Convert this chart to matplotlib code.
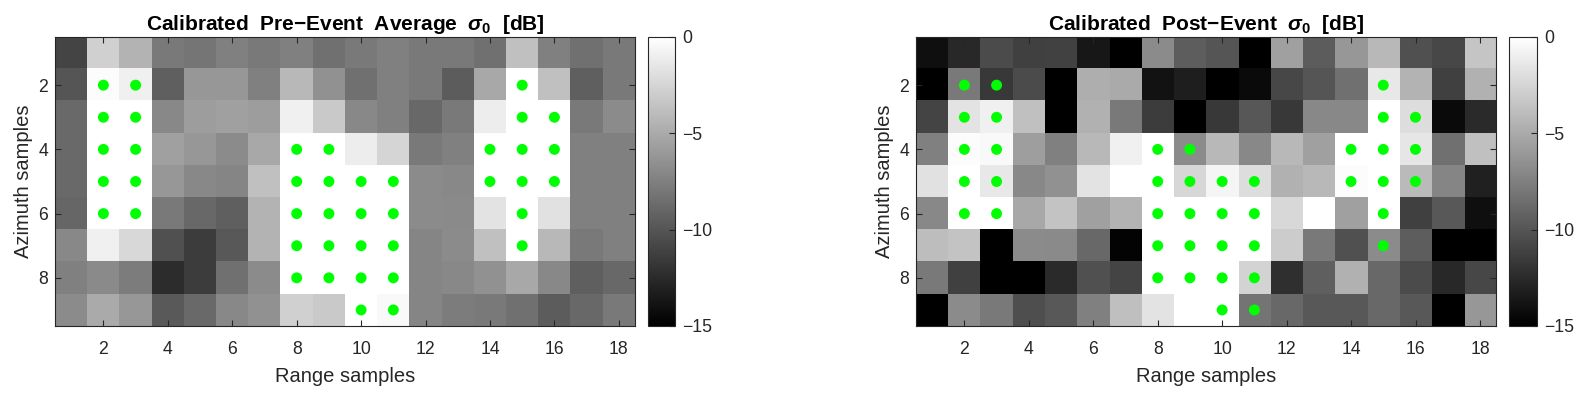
import numpy as np
import matplotlib
matplotlib.use("Agg")
import matplotlib.pyplot as plt

plt.rcParams['font.family'] = ['Liberation Sans', 'DejaVu Sans']
plt.rcParams['mathtext.fontset'] = 'custom'
plt.rcParams['mathtext.it'] = 'Liberation Sans:italic:bold'
plt.rcParams['mathtext.rm'] = 'Liberation Sans:bold'

# --- calibrated sigma0 [dB], 9 azimuth rows x 18 range columns ---
pre_event = [
    [-11.0, -2.8, -4.4, -7.9, -8.1, -7.5, -7.9, -7.5, -8.4, -7.9, -7.5, -7.8, -7.9, -8.4, -3.7, -7.5, -8.4, -7.9],
    [-10.0, -0.2, -0.9, -9.4, -6.1, -6.1, -7.5, -4.2, -6.5, -8.4, -7.5, -7.9, -9.6, -5.1, 0.0, -3.7, -9.4, -7.9],
    [-8.8, 0.0, 0.0, -7.0, -5.8, -5.6, -5.8, -0.9, -3.2, -7.0, -7.5, -8.9, -7.9, -1.1, 0.0, 0.0, -7.9, -6.8],
    [-8.8, 0.0, 0.0, -5.6, -6.1, -6.8, -5.1, 0.0, 0.0, -1.1, -2.5, -7.9, -7.5, 0.0, 0.0, 0.0, -7.5, -7.5],
    [-8.8, 0.0, 0.0, -6.1, -7.0, -7.2, -3.7, 0.0, 0.0, 0.0, 0.0, -6.8, -7.0, 0.0, 0.0, 0.0, -7.5, -7.5],
    [-9.0, 0.0, 0.0, -7.9, -8.9, -9.4, -4.4, 0.0, 0.0, 0.0, 0.0, -6.8, -6.9, -1.6, 0.0, -1.8, -7.5, -7.5],
    [-7.0, -0.9, -2.3, -10.3, -11.4, -9.8, -4.4, 0.0, 0.0, 0.0, 0.0, -7.2, -6.8, -3.7, 0.0, -4.2, -7.9, -7.5],
    [-7.5, -6.9, -7.7, -12.4, -11.4, -8.4, -6.8, 0.0, 0.0, 0.0, 0.0, -7.2, -7.0, -6.5, -5.1, -7.0, -9.4, -8.9],
    [-6.8, -5.0, -6.1, -9.7, -8.8, -7.0, -6.5, -2.8, -3.2, 0.0, -0.4, -7.2, -7.7, -7.9, -8.4, -9.6, -8.9, -7.9],
]

post_event = [
    [-14.1, -12.6, -10.6, -11.2, -11.1, -13.6, -15.0, -6.8, -9.5, -10.0, -15.0, -5.6, -9.6, -6.1, -4.2, -10.3, -10.8, -3.4],
    [-15.0, -7.9, -11.7, -10.6, -15.0, -4.8, -5.0, -13.9, -13.2, -15.0, -14.4, -10.8, -10.0, -8.4, -1.4, -4.5, -11.2, -4.6],
    [-11.0, -1.6, -0.9, -3.7, -15.0, -4.6, -7.9, -11.4, -15.0, -11.7, -9.9, -11.7, -7.0, -7.0, 0.0, -2.0, -14.4, -12.5],
    [-7.5, -0.2, -0.4, -5.7, -7.5, -4.2, -0.9, 0.0, -6.8, -4.2, -7.0, -4.2, -5.6, 0.0, 0.0, -1.5, -8.4, -3.7],
    [-1.8, 0.0, -1.4, -7.0, -6.5, -1.6, 0.0, 0.0, -2.4, -0.6, -2.0, -4.6, -4.2, -0.2, 0.0, -4.1, -7.2, -13.1],
    [-7.0, 0.0, 0.0, -5.1, -3.5, -5.6, -4.5, 0.0, 0.0, 0.0, 0.0, -2.3, 0.0, -5.6, 0.0, -11.2, -9.8, -14.1],
    [-3.9, -3.5, -15.0, -6.8, -6.9, -8.9, -14.8, 0.0, 0.0, 0.0, 0.0, -3.0, -7.9, -10.3, -6.8, -9.5, -15.0, -15.0],
    [-7.9, -11.2, -15.0, -15.0, -12.5, -10.3, -11.0, 0.0, 0.0, 0.0, -2.6, -12.2, -9.4, -4.6, -8.9, -10.6, -12.6, -10.8],
    [-15.0, -6.8, -7.9, -10.4, -9.8, -7.5, -3.8, -1.6, 0.0, 0.0, -8.2, -8.9, -9.8, -9.8, -8.9, -9.8, -15.0, -6.1],
]

# marked (damaged) pixels: range column, azimuth row
dot_cols = [2, 3, 15, 2, 3, 15, 16, 2, 3, 8, 9, 14, 15, 16,
            2, 3, 8, 9, 10, 11, 14, 15, 16, 2, 3, 8, 9, 10, 11, 15,
            8, 9, 10, 11, 15, 8, 9, 10, 11, 10, 11]
dot_rows = [2, 2, 2, 3, 3, 3, 3, 4, 4, 4, 4, 4, 4, 4,
            5, 5, 5, 5, 5, 5, 5, 5, 5, 6, 6, 6, 6, 6, 6, 6,
            7, 7, 7, 7, 7, 8, 8, 8, 8, 9, 9]

titles = [r"Calibrated  Pre$-$Event  Average  $\sigma_0$  [dB]",
          r"Calibrated  Post$-$Event  $\sigma_0$  [dB]"]
x_ticks = [2, 4, 6, 8, 10, 12, 14, 16, 18]
y_ticks = [2, 4, 6, 8]
cbar_ticks = [0, -5, -10, -15]

txt = "#262626"
fig = plt.figure(figsize=(15.87, 3.93), dpi=100)
ax_pos = [[0.0347, 0.1705, 0.3654, 0.7354], [0.5772, 0.1705, 0.3655, 0.7354]]
cb_pos = [[0.4083, 0.1705, 0.0170, 0.7354], [0.9509, 0.1705, 0.0176, 0.7354]]

for k, data in enumerate([pre_event, post_event]):
    ax = fig.add_axes(ax_pos[k])
    arr = np.array(data)
    nr, nc = arr.shape
    im = ax.imshow(arr, cmap="gray", vmin=-15, vmax=0, aspect="auto",
                   interpolation="nearest", extent=(0.5, nc + 0.5, nr + 0.5, 0.5))
    ax.scatter(dot_cols, dot_rows, s=62, color="#00ff00", edgecolors="none", zorder=3)
    ax.set_xticks(x_ticks)
    ax.set_yticks(y_ticks)
    ax.tick_params(direction="in", top=True, right=True, length=4.5, width=0.8,
                   labelsize=12.7, colors=txt)
    ax.tick_params(axis="x", pad=10.5)
    ax.tick_params(axis="y", pad=5)
    for sp in ax.spines.values():
        sp.set_color(txt)
        sp.set_linewidth(0.8)
    ax.set_xlabel("Range samples", fontsize=14.5, color=txt, labelpad=6.5)
    ax.set_ylabel("Azimuth samples", fontsize=14.5, color=txt, labelpad=4)
    ax.set_title(titles[k], fontsize=15, fontweight="bold", color="black", pad=5)

    cax = fig.add_axes(cb_pos[k])
    cb = fig.colorbar(im, cax=cax, ticks=cbar_ticks)
    cb.ax.tick_params(direction="in", length=4.5, width=0.8, labelsize=12.7, colors=txt, pad=5)
    cb.ax.set_yticklabels(["0", "\u22125", "\u221210", "\u221215"])
    cb.outline.set_edgecolor(txt)
    cb.outline.set_linewidth(0.8)

fig.savefig("out.png", dpi=100)
